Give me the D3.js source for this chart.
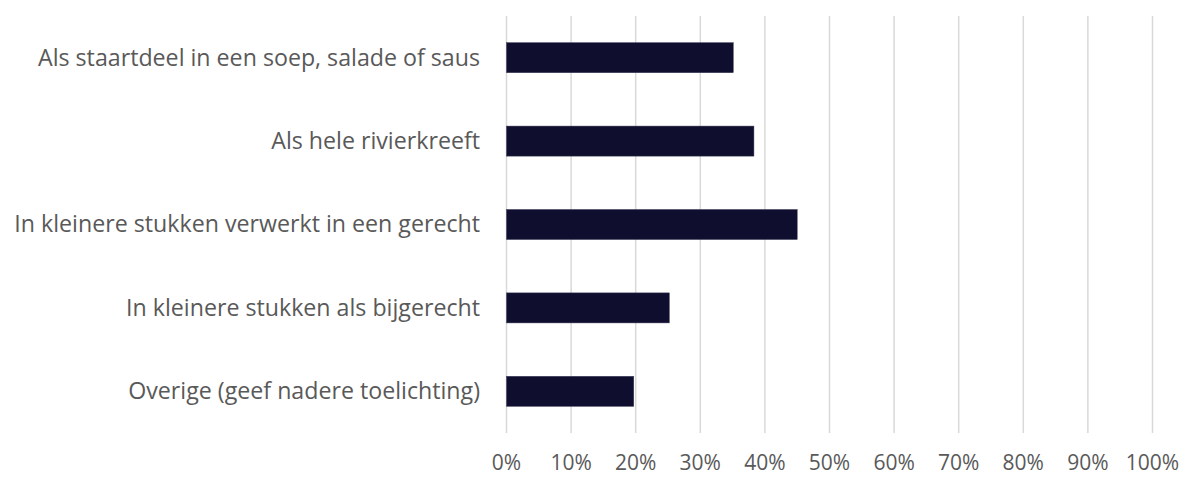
<!DOCTYPE html>
<html><head><meta charset="utf-8">
<script src="https://cdn.jsdelivr.net/npm/d3@7"></script>
<style>body{margin:0;background:#fff}svg{display:block}</style>
</head><body>
<svg id="c" width="1186" height="477"></svg>
<script>
const categories = [
  "Als staartdeel in een soep, salade of saus",
  "Als hele rivierkreeft",
  "In kleinere stukken verwerkt in een gerecht",
  "In kleinere stukken als bijgerecht",
  "Overige (geef nadere toelichting)"
];
const values = [0.351, 0.383, 0.450, 0.252, 0.197];
const tickValues = [0,0.1,0.2,0.3,0.4,0.5,0.6,0.7,0.8,0.9,1.0];

const svg = d3.select("#c");
const x = d3.scaleLinear().domain([0,1]).range([506.5,1152.5]);
const y = d3.scaleBand().domain(categories).range([16,433]).paddingInner(0.64).paddingOuter(0.32);

const font = "'Open Sans', sans-serif";
svg.append("g").selectAll("line").data(tickValues).join("line")
  .attr("x1", d=>x(d)).attr("x2", d=>x(d)).attr("y1",16).attr("y2",433)
  .attr("stroke","#d9d9d9").attr("stroke-width",1.5);

svg.append("g").selectAll("rect").data(values).join("rect")
  .attr("x", x(0)).attr("y",(d,i)=>y(categories[i]))
  .attr("width", d=>x(d)-x(0)).attr("height", y.bandwidth())
  .attr("fill","#0f0e2e").attr("stroke","#3a3a58").attr("stroke-width",0.5);

svg.append("g").selectAll("text").data(categories).join("text")
  .attr("x",480).attr("y",d=>y(d)+y.bandwidth()/2).attr("dy","0.34em")
  .attr("text-anchor","end").attr("font-family",font).attr("font-size",23.2)
  .attr("fill","#595959").text(d=>d);

svg.append("g").selectAll("text").data(tickValues).join("text")
  .attr("x",d=>x(d)).attr("y",470)
  .attr("text-anchor","middle").attr("font-family",font).attr("font-size",21)
  .attr("fill","#595959").text(d=>d3.format(".0%")(d));
</script>
</body></html>
